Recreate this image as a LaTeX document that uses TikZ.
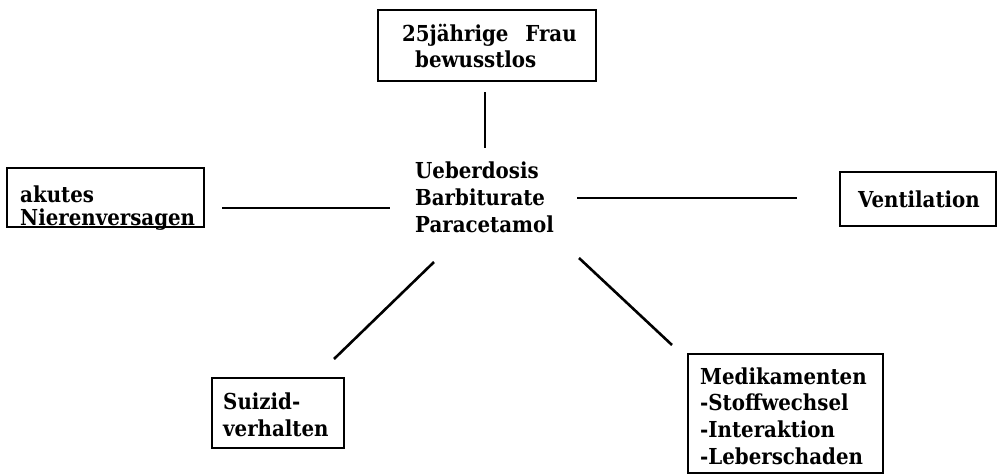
\documentclass[tikz,border=0pt]{standalone}
\usepackage{fontspec}
\newfontfamily\twfont{DejaVu Serif Condensed}[BoldFont={DejaVu Serif Condensed Bold}]
\begin{document}
\begin{tikzpicture}[x=1pt,y=-1pt,
  frame/.style={draw,line width=1.8pt,inner sep=0pt},
  txt/.style={inner sep=0pt,anchor=north west,align=left},
  link/.style={line width=2.6pt}]
\newcommand{\tstrut}{\rule{0pt}{20pt}}
\useasboundingbox (0,0) rectangle (997,475);
% boxes
\node[frame,minimum width=218pt,minimum height=71pt] (top) at (487,45.5) {};
\node[frame,minimum width=197pt,minimum height=59pt] (left) at (105.5,197.5) {};
\node[frame,minimum width=156pt,minimum height=54pt] (vent) at (918,199) {};
\node[frame,minimum width=132pt,minimum height=70pt] (suizid) at (278,413) {};
\node[frame,minimum width=195pt,minimum height=119pt] (medi) at (785.5,413.5) {};
% texts
\node[txt,font=\twfont\bfseries\fontsize{22}{26}\selectfont] (topT) at (402,21)
  {\tstrut 25jährige\hspace{10pt} Frau\\\hspace*{13pt}bewusstlos};
\node[txt,font=\twfont\bfseries\fontsize{22}{27}\selectfont] (center) at (415,158)
  {\tstrut Ueberdosis\\Barbiturate\\Paracetamol};
\node[txt,font=\twfont\bfseries\fontsize{22}{23}\selectfont] (leftT) at (20,182)
  {\tstrut akutes\\Nierenversagen};
\node[txt,font=\twfont\bfseries\fontsize{22}{26}\selectfont] (ventT) at (858,187)
  {\tstrut Ventilation};
\node[txt,font=\twfont\bfseries\fontsize{22}{27}\selectfont] (suizidT) at (223,389)
  {\tstrut Suizid-\\verhalten};
\node[txt,font=\twfont\bfseries\fontsize{22}{26.7}\selectfont] (mediT) at (700,364)
  {\tstrut Medikamenten\\-Stoffwechsel\\-Interaktion\\-Leberschaden};
% connectors
\coordinate (a1) at (485,92);  \coordinate (a2) at (485,148);
\coordinate (b1) at (222,208); \coordinate (b2) at (390,208);
\coordinate (c1) at (577,198); \coordinate (c2) at (797,198);
\coordinate (d1) at (434,262); \coordinate (d2) at (334,359);
\coordinate (e1) at (579,258); \coordinate (e2) at (672,345);
\draw[link] (a1) -- (a2);
\draw[link] (b1) -- (b2);
\draw[link] (c1) -- (c2);
\draw[link] (d1) -- (d2);
\draw[link] (e1) -- (e2);
\end{tikzpicture}
\end{document}
